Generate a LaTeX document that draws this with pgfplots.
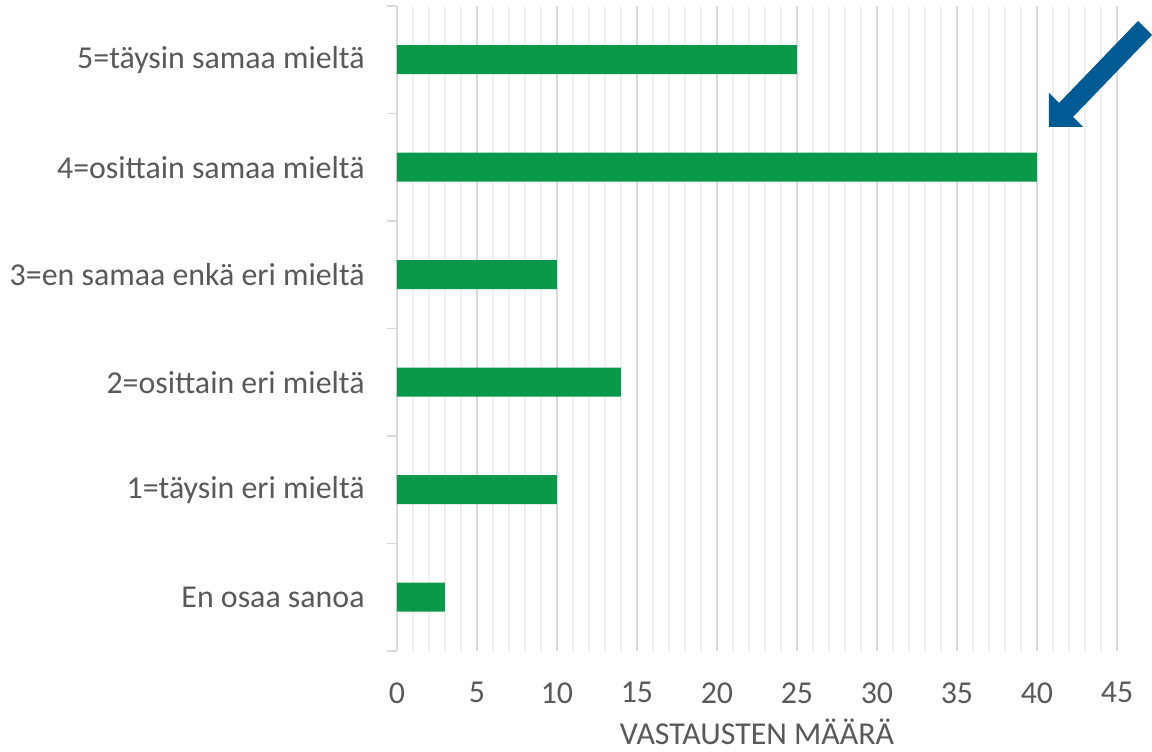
\documentclass[border=0pt]{standalone}
\usepackage{pgfplots}
\pgfplotsset{compat=1.18}
\usepackage{fontspec}
\setmainfont{Carlito}
\definecolor{bargreen}{HTML}{0A984A}
\definecolor{arrowblue}{HTML}{005A94}
\definecolor{txt}{HTML}{595959}
\definecolor{majg}{HTML}{D9D9D9}
\definecolor{ming}{HTML}{F0F0F0}
\begin{document}
\begin{tikzpicture}
\begin{axis}[
  scale only axis,
  width=360bp, height=322.5bp,
  xmin=0, xmax=45, ymin=-0.5, ymax=5.5,
  xbar, bar width=14.5bp,
  clip=false,
  axis y line*=left, axis x line*=bottom,
  x axis line style={draw=none},
  y axis line style={draw=majg, line width=0.8bp},
  xtick={0,5,...,45},
  minor x tick num=4,
  xmajorgrids, xminorgrids,
  major grid style={draw=majg, line width=0.8bp},
  minor grid style={draw=ming, line width=0.8bp},
  major tick length=0pt, minor tick length=0pt,
  ytick={0,1,2,3,4,5},
  yticklabels={En osaa sanoa,1=täysin eri mieltä,2=osittain eri mieltä,3=en samaa enkä eri mieltä,4=osittain samaa mieltä,5=täysin samaa mieltä},
  extra y ticks={-0.5,0.5,1.5,2.5,3.5,4.5,5.5},
  extra y tick labels={},
  extra y tick style={major tick length=5bp, tick align=outside, tick style={draw=majg, line width=0.8bp}, grid=none},
  /pgf/number format/assume math mode=true,
  every tick label/.append style={font=\fontsize{16}{19}\selectfont, text=txt},
  xticklabel style={inner sep=0pt, anchor=north, yshift=-15.5bp},
  yticklabel style={inner sep=0pt, anchor=east, xshift=-16bp},
  xlabel={VASTAUSTEN MÄÄRÄ},
  xlabel style={at={(axis description cs:0.5,0)}, anchor=base, yshift=-47bp, inner sep=0pt, font=\fontsize{16}{19}\selectfont, text=txt},
]
\addplot[fill=bargreen, draw=none] coordinates {(3,0) (10,1) (14,2) (10,3) (40,4) (25,5)};
\fill[arrowblue] (axis cs:46.3125,5.3605) -- (axis cs:41.375,4.5977) -- (axis cs:40.75,4.6907) -- (axis cs:40.75,4.3744) -- (axis cs:42.875,4.3744) -- (axis cs:42.25,4.4674) -- (axis cs:47.1875,5.2302) -- cycle;
\coordinate (BL) at (axis cs:-24.8125,-1.4395);
\coordinate (TR) at (axis cs:47.1875,5.5558);
\end{axis}
\pgfresetboundingbox
\path (BL) rectangle (TR);
\end{tikzpicture}
\end{document}
